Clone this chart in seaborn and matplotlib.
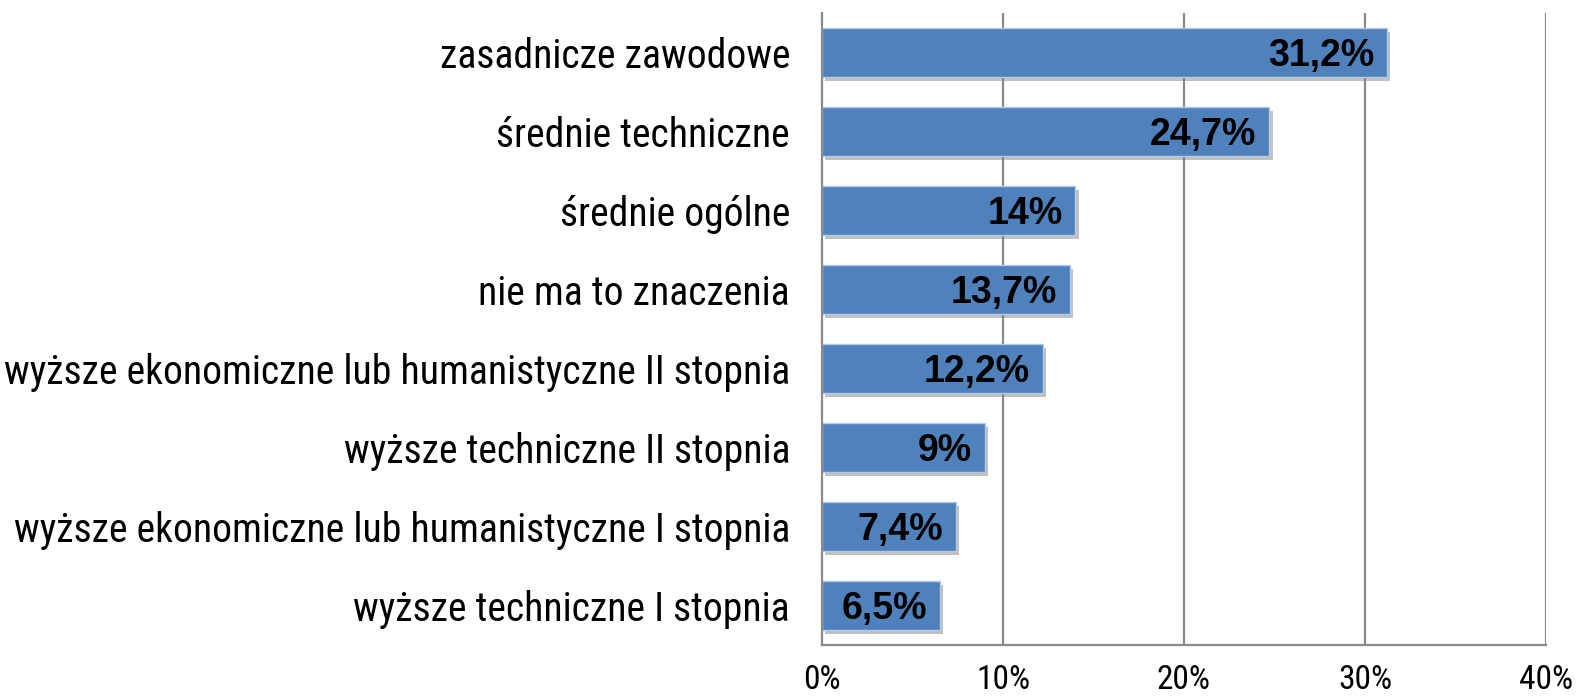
import matplotlib
matplotlib.use("Agg")
import matplotlib.pyplot as plt
import matplotlib.patheffects as pe
from matplotlib import font_manager
import seaborn as sns
import pandas as pd
import numpy as np

categories = [
    "zasadnicze zawodowe",
    "średnie techniczne",
    "średnie ogólne",
    "nie ma to znaczenia",
    "wyższe ekonomiczne lub humanistyczne II stopnia",
    "wyższe techniczne II stopnia",
    "wyższe ekonomiczne lub humanistyczne I stopnia",
    "wyższe techniczne I stopnia",
]
values = [31.2, 24.7, 14.0, 13.7, 12.2, 9.0, 7.4, 6.5]
value_labels = ["31,2%", "24,7%", "14%", "13,7%", "12,2%", "9%", "7,4%", "6,5%"]
x_ticks = [0, 10, 20, 30, 40]
x_tick_labels = ["0%", "10%", "20%", "30%", "40%"]

sns.set_style("white")
names = {f.name for f in font_manager.fontManager.ttflist}
base = "Liberation Sans" if "Liberation Sans" in names else "DejaVu Sans"
condensed = None
for c in ["Liberation Sans Narrow", "Arial Narrow", "Roboto Condensed"]:
    if c in names:
        condensed = c
        break
plt.rcParams['font.family'] = [base, 'DejaVu Sans']
plt.rcParams['text.color'] = 'black'
plt.rcParams['xtick.color'] = 'black'
plt.rcParams['ytick.color'] = 'black'

tick_family = [condensed, base, 'DejaVu Sans'] if condensed else [base, 'DejaVu Sans']
tick_size = 28.5 if condensed else 25
xtick_size = 24 if condensed else 21

df = pd.DataFrame({"cat": categories, "val": values})

fig = plt.figure(figsize=(15.85, 6.97), dpi=100)
left, right, top, bottom = 822 / 1585, 1546 / 1585, 1 - 13 / 697, 1 - 645 / 697
ax = fig.add_axes([left, bottom, right - left, top - bottom])

ax.set_axisbelow(True)
for t in x_ticks[1:]:
    ax.axvline(t, color="#8a8a8a", lw=1.6, zorder=0)

sns.barplot(data=df, x="val", y="cat", orient="h", color="#4F81BD",
            saturation=1, width=0.62, ax=ax, edgecolor="#b3c9e4", linewidth=1.0)

for p in ax.patches:
    p.set_path_effects([pe.SimplePatchShadow(offset=(2.5, -3), shadow_rgbFace="#777777", alpha=0.45),
                        pe.Normal()])

for i, (v, lab) in enumerate(zip(values, value_labels)):
    ax.text(v - 0.7, i + 0.04, lab, ha="right", va="center", fontsize=27,
            fontweight="bold", color="black", family=[base, 'DejaVu Sans'])

ax.set_xlim(0, 40)
ax.set_ylim(len(categories) - 0.5, -0.5)
ax.set_xticks(x_ticks)
ax.set_xticklabels(x_tick_labels, fontsize=xtick_size, family=tick_family)
ax.set_yticks(range(len(categories)))
ax.set_yticklabels(categories, fontsize=tick_size, family=tick_family)
ax.set_yticks(np.arange(-0.5, len(categories), 1.0), minor=True)
ax.tick_params(axis="y", which="major", length=0, pad=23)
ax.tick_params(axis="y", which="minor", length=7, width=1.5, color="#8a8a8a", direction="out")
ax.tick_params(axis="x", which="major", length=6, width=1.5, color="#8a8a8a", direction="out", pad=8)
ax.set_xlabel("")
ax.set_ylabel("")

for s in ["top", "right"]:
    ax.spines[s].set_visible(False)
for s in ["left", "bottom"]:
    ax.spines[s].set_color("#8a8a8a")
    ax.spines[s].set_linewidth(1.6)

fig.savefig("out.png", dpi=100)
